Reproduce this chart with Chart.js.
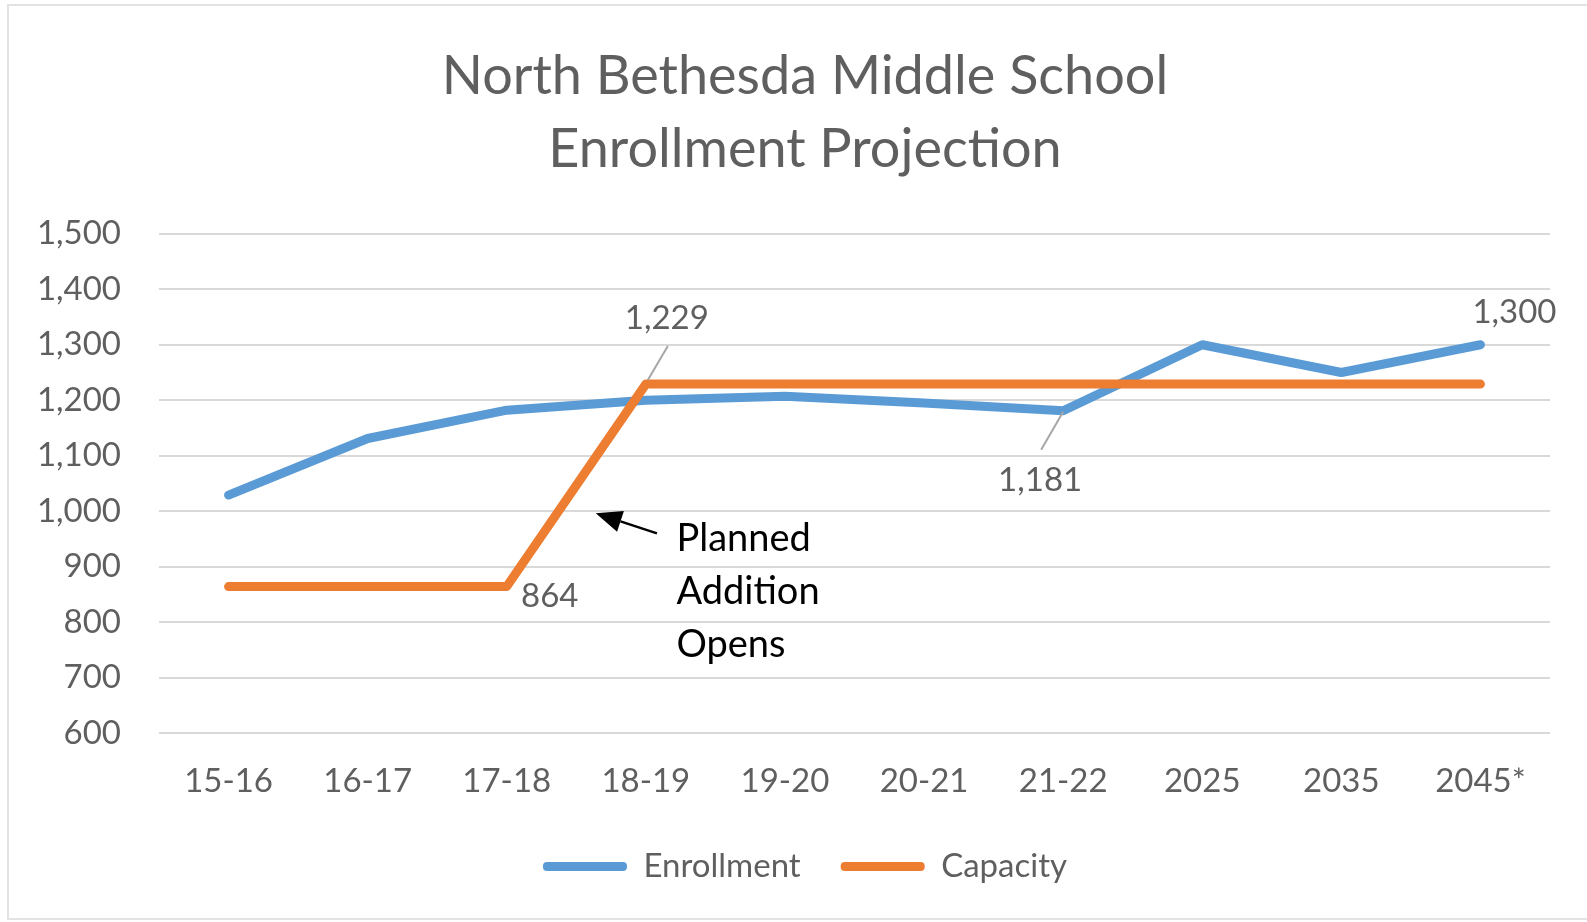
<!DOCTYPE html>
<html>
<head>
<meta charset="utf-8">
<title>North Bethesda Middle School Enrollment Projection</title>
<script src="https://cdn.jsdelivr.net/npm/chart.js@4.4.1/dist/chart.umd.min.js"></script>
<style>
  html, body { margin: 0; padding: 0; background: #fff; overflow: hidden; }
  #frame { position: absolute; left: 7px; top: 4px; width: 1620px; height: 912px; border: 2px solid #e3e3e3; }
  #wrap { position: absolute; left: 0; top: 0; width: 1587px; height: 922px; }
</style>
</head>
<body>
<div id="frame"></div>
<div id="wrap"><canvas id="enrollChart"></canvas></div>
<script>
(function () {
  'use strict';

  const categories = ['15-16', '16-17', '17-18', '18-19', '19-20', '20-21', '21-22', '2025', '2035', '2045*'];
  const enrollment = [1029, 1131, 1182, 1200, 1207, 1195, 1181, 1300, 1250, 1300];
  const capacity = [864, 864, 864, 1229, 1229, 1229, 1229, 1229, 1229, 1229];
  const yMin = 600;
  const yMax = 1500;
  const yStep = 100;
  const titleLines = ['North Bethesda Middle School', 'Enrollment Projection'];
  const noteLines = ['Planned', 'Addition', 'Opens'];

  const BLUE = '#5b9bd5';
  const ORANGE = '#ed7d31';
  const TEXT = '#5f5f5f';
  const FONT = 'Lato, "Open Sans", sans-serif';

  // value labels: [dataset, point index, dx, dy, leader line?]
  const valueLabels = [
    [1, 3, 21, -66, true],
    [1, 2, 43, 10, false],
    [0, 6, -23, 70, true],
    [0, 9, 34, -32, false]
  ];

  function fmt(n) {
    return new Intl.NumberFormat('en-US').format(n);
  }

  const labelsPlugin = {
    id: 'valueLabels',
    afterLayout: function (chart) {
      // let the y tick labels run into the left padding instead of being clipped
      chart.scales.y.left = 0;
    },
    afterDatasetsDraw: function (chart) {
      const ctx = chart.ctx;
      ctx.save();
      ctx.font = '33px ' + FONT;
      ctx.fillStyle = TEXT;
      ctx.textAlign = 'center';
      ctx.textBaseline = 'middle';
      valueLabels.forEach(function (l) {
        const pt = chart.getDatasetMeta(l[0]).data[l[1]];
        const val = chart.data.datasets[l[0]].data[l[1]];
        const tx = pt.x + l[2];
        const ty = pt.y + l[3];
        if (l[4]) {
          ctx.strokeStyle = '#a6a6a6';
          ctx.lineWidth = 2;
          ctx.beginPath();
          const up = l[3] < 0;
          ctx.moveTo(pt.x + (up ? 2 : 0), pt.y + (up ? -4 : 1));
          ctx.lineTo(tx + 1, ty + (up ? 28 : -31));
          ctx.stroke();
        }
        ctx.fillText(fmt(val), tx, ty);
      });

      // arrow + note for the planned addition
      const xs = chart.scales.x;
      const ys = chart.scales.y;
      const tipX = xs.getPixelForValue(2.64), tipY = ys.getPixelForValue(996);
      const tailX = xs.getPixelForValue(3.08), tailY = ys.getPixelForValue(960);
      const ang = Math.atan2(tipY - tailY, tipX - tailX);
      const headLen = 26, headW = 11;
      const baseX = tipX - headLen * Math.cos(ang), baseY = tipY - headLen * Math.sin(ang);
      ctx.strokeStyle = '#000';
      ctx.fillStyle = '#000';
      ctx.lineWidth = 2.5;
      ctx.beginPath();
      ctx.moveTo(tailX, tailY);
      ctx.lineTo(baseX, baseY);
      ctx.stroke();
      ctx.beginPath();
      ctx.moveTo(tipX, tipY);
      ctx.lineTo(baseX + headW * Math.sin(ang), baseY - headW * Math.cos(ang));
      ctx.lineTo(baseX - headW * Math.sin(ang), baseY + headW * Math.cos(ang));
      ctx.closePath();
      ctx.fill();

      ctx.font = '38px ' + FONT;
      ctx.textAlign = 'left';
      const noteX = xs.getPixelForValue(3.22);
      const noteY = ys.getPixelForValue(950);
      noteLines.forEach(function (t, i) {
        ctx.fillText(t, noteX, noteY + i * 53);
      });
      ctx.restore();
    }
  };

  new Chart(document.getElementById('enrollChart'), {
    type: 'line',
    data: {
      labels: categories,
      datasets: [
        {
          label: 'Enrollment',
          data: enrollment,
          borderColor: BLUE,
          backgroundColor: BLUE,
          borderWidth: 9,
          borderCapStyle: 'round',
          borderJoinStyle: 'round',
          pointRadius: 0,
          tension: 0,
          order: 1
        },
        {
          label: 'Capacity',
          data: capacity,
          borderColor: ORANGE,
          backgroundColor: ORANGE,
          borderWidth: 9,
          borderCapStyle: 'round',
          borderJoinStyle: 'round',
          pointRadius: 0,
          tension: 0,
          order: 0
        }
      ]
    },
    options: {
      responsive: true,
      maintainAspectRatio: false,
      animation: false,
      layout: { padding: { left: 60, right: 37, top: 0, bottom: 29 } },
      plugins: {
        title: {
          display: true,
          text: titleLines,
          color: TEXT,
          font: { family: FONT, size: 54, weight: 'normal', lineHeight: 1.35 },
          padding: { top: 40, bottom: 48 }
        },
        legend: {
          position: 'bottom',
          labels: {
            color: TEXT,
            font: { family: FONT, size: 33 },
            boxWidth: 84,
            boxHeight: 9,
            useBorderRadius: true,
            borderRadius: 4,
            padding: 40,
            sort: function (a, b) { return a.datasetIndex - b.datasetIndex; },
            generateLabels: function (chart) {
              return Chart.defaults.plugins.legend.labels.generateLabels(chart).map(function (it) {
                it.lineWidth = 0;
                return it;
              });
            }
          }
        },
        tooltip: { enabled: false }
      },
      scales: {
        x: {
          offset: true,
          grid: { display: false },
          border: { display: false },
          ticks: { color: TEXT, font: { family: FONT, size: 33 }, padding: 21, maxRotation: 0 },
          afterFit: function (scale) { scale.height = 77; }
        },
        y: {
          min: yMin,
          max: yMax,
          grid: { color: '#d9d9d9', lineWidth: 2, drawTicks: false },
          border: { display: false },
          ticks: {
            stepSize: yStep,
            color: TEXT,
            font: { family: FONT, size: 33 },
            padding: 38,
            callback: function (v) { return fmt(v); }
          },
          afterFit: function (scale) { scale.width = 99; }
        }
      }
    },
    plugins: [labelsPlugin]
  });
})();
</script>
</body>
</html>
